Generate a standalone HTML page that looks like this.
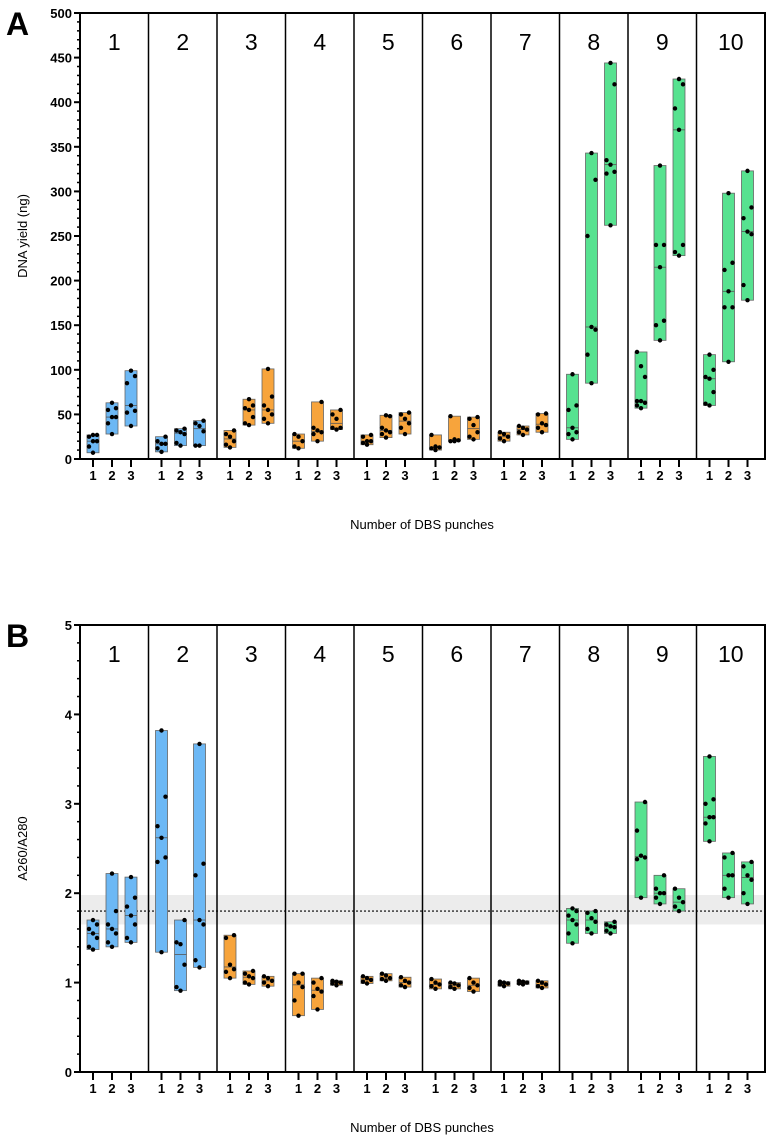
<!DOCTYPE html>
<html><head><meta charset="utf-8"><style>
body{margin:0;background:#fff;font-family:"Liberation Sans",sans-serif}
</style></head><body>
<svg id="c" width="773" height="1140" xmlns="http://www.w3.org/2000/svg" font-family="Liberation Sans, sans-serif"></svg>
<script>
const panelLabels=["1","2","3","4","5","6","7","8","9","10"];
const groupLabels=["1","2","3"];
const panelColors=["#6cb8f5","#6cb8f5","#f7a43c","#f7a43c","#f7a43c","#f7a43c","#f7a43c","#57e290","#57e290","#57e290"];
const yieldData=[
[[7,14,20,20,25,27,27],[28,40,47,47,55,57,63],[37,52,54,60,85,93,99]],
[[8,12,17,17,20,25],[15,18,28,30,32,34],[15,15,31,37,40,43]],
[[13,16,20,25,28,32],[38,40,47,55,57,60,67],[40,45,50,55,60,70,101]],
[[12,14,20,25,28],[20,28,30,32,35,64],[33,35,35,45,50,55]],
[[16,18,20,20,25,27],[24,28,30,32,35,48,49],[28,35,40,45,50,52]],
[[10,12,13,14,27],[20,20,21,22,48],[22,25,30,38,45,47]],
[[20,23,25,28,30],[27,30,33,35,37],[30,35,38,40,50,51]],
[[22,28,30,35,55,60,95],[85,117,145,148,250,313,343],[262,320,322,330,335,420,444]],
[[57,60,63,65,65,92,104,120],[133,150,155,215,240,240,329],[228,232,240,369,393,420,426]],
[[60,62,75,90,92,100,117],[109,170,170,188,212,220,298],[178,195,252,255,270,282,323]]];
const ratioData=[
[[1.37,1.4,1.5,1.55,1.6,1.65,1.7],[1.4,1.45,1.55,1.6,1.65,1.8,2.22],[1.45,1.5,1.65,1.75,1.85,1.95,2.18]],
[[1.34,2.35,2.4,2.62,2.75,3.08,3.82],[0.91,0.95,1.2,1.43,1.45,1.7],[1.17,1.25,1.65,1.7,2.2,2.33,3.67]],
[[1.05,1.12,1.15,1.2,1.5,1.53],[0.98,1.0,1.05,1.07,1.1,1.13],[0.96,1.0,1.02,1.05,1.07]],
[[0.63,0.8,0.95,1.0,1.1,1.1],[0.7,0.85,0.9,0.93,1.0,1.05],[0.97,0.99,1.0,1.01,1.02]],
[[0.99,1.01,1.03,1.05,1.07],[1.02,1.04,1.05,1.08,1.1],[0.95,0.97,1.0,1.02,1.06]],
[[0.93,0.96,0.98,1.0,1.04],[0.93,0.95,0.97,0.99,1.0],[0.9,0.94,0.97,1.0,1.05]],
[[0.96,0.98,0.99,1.0,1.01],[0.98,0.99,1.0,1.01,1.02],[0.94,0.96,0.98,1.0,1.02]],
[[1.44,1.55,1.65,1.7,1.75,1.8,1.83],[1.55,1.6,1.68,1.72,1.78,1.8],[1.55,1.58,1.62,1.63,1.65,1.68]],
[[1.95,2.38,2.4,2.42,2.7,3.02],[1.88,1.95,2.0,2.0,2.05,2.2],[1.8,1.85,1.9,1.95,2.05]],
[[2.58,2.78,2.85,2.85,3.0,3.05,3.53],[1.95,2.05,2.2,2.2,2.4,2.45],[1.88,2.0,2.15,2.2,2.3,2.35]]];
const yieldTicks=[0,50,100,150,200,250,300,350,400,450,500];
const ratioTicks=[0,1,2,3,4,5];
const refBand=[1.65,1.98];
const refLine=1.8;

const svg=document.getElementById('c');
const NS='http://www.w3.org/2000/svg';
function el(t,a,p){const e=document.createElementNS(NS,t);for(const k in a)e.setAttribute(k,a[k]);(p||svg).appendChild(e);return e;}
const X0=80,X1=765,PW=(X1-X0)/10,offs=[13,32,51];

function panel(o){
  const g=el('g',{});
  
  
  const y=v=>o.y0-(v-o.min)/(o.max-o.min)*(o.y0-o.y1);
  if(o.band){
    const b=el('rect',{x:X0,y:y(o.band[1]),width:X1-X0,height:y(o.band[0])-y(o.band[1]),fill:'#ececec'},g);
    
    const l=el('line',{x1:X0,x2:X1,y1:y(o.line),y2:y(o.line),stroke:'#000','stroke-width':1.2,'stroke-dasharray':'2,2'},g);
    
  }
  o.data.forEach((pan,pi)=>{
    pan.forEach((vals,gi)=>{
      const cx=X0+pi*PW+offs[gi];
      const s=[...vals].sort((a,b)=>a-b);
      const mn=s[0],mx=s[s.length-1],md=s.length%2?s[(s.length-1)/2]:(s[s.length/2-1]+s[s.length/2])/2;
      const r=el('rect',{x:cx-6,y:y(mx),width:12,height:Math.max(1,y(mn)-y(mx)),fill:panelColors[pi],stroke:'#666','stroke-width':0.8},g);
      
      el('line',{x1:cx-6,x2:cx+6,y1:y(md),y2:y(md),stroke:'#555','stroke-width':0.8},g);
      const jit=[0,-4,4,0,-4,4,0,-4];
      vals.forEach((v,k)=>{
        const c=el('circle',{cx:cx+jit[k%jit.length],cy:y(v),r:2.2,fill:'#000'},g);
        
      });
      el('line',{x1:cx,x2:cx,y1:o.y0,y2:o.y0+8,stroke:'#000','stroke-width':2},g);
      const t=el('text',{x:cx,y:o.y0+21,'text-anchor':'middle','font-size':13,'font-weight':'bold'},g);
      t.textContent=groupLabels[gi];
      
    });
  });
  for(let i=1;i<10;i++)el('line',{x1:X0+i*PW,x2:X0+i*PW,y1:o.y1,y2:o.y0,stroke:'#000','stroke-width':1.5},g);
  panelLabels.forEach((p,i)=>{
    const t=el('text',{x:X0+i*PW+PW/2,y:o.y1+37,'text-anchor':'middle','font-size':23},g);
    t.textContent=p;
  });
  el('rect',{x:X0,y:o.y1,width:X1-X0,height:o.y0-o.y1,fill:'none',stroke:'#000','stroke-width':2},g);
  for(let v=o.min;v<=o.max+1e-9;v+=o.minor){
    el('line',{x1:X0-3,x2:X0,y1:y(v),y2:y(v),stroke:'#000','stroke-width':1.5},g);
  }
  o.ticks.forEach(v=>{
    el('line',{x1:X0-6,x2:X0,y1:y(v),y2:y(v),stroke:'#000','stroke-width':2},g);
    const t=el('text',{x:X0-8,y:y(v)+5,'text-anchor':'end','font-size':13,'font-weight':'bold'},g);
    t.textContent=v;
  });
  const yt=el('text',{x:0,y:0,'text-anchor':'middle','font-size':13,transform:`translate(27,${(o.y0+o.y1)/2}) rotate(-90)`},g);
  yt.textContent=o.ytitle;
  const xt=el('text',{x:422,y:o.xt,'text-anchor':'middle','font-size':13},g);
  xt.textContent='Number of DBS punches';
  const L=el('text',{x:6,y:o.y1+22,'font-size':32,'font-weight':'bold'},g);
  L.textContent=o.letter;
}
panel({name:'panel-a-dna-yield',data:yieldData,min:0,max:500,y0:459,y1:13,ticks:yieldTicks,minor:10,ytitle:'DNA yield (ng)',letter:'A',xt:529});
panel({name:'panel-b-a260-a280',data:ratioData,min:0,max:5,y0:1072,y1:625,ticks:ratioTicks,minor:0.2,ytitle:'A260/A280',letter:'B',band:refBand,line:refLine,xt:1132});
</script>
</body></html>
